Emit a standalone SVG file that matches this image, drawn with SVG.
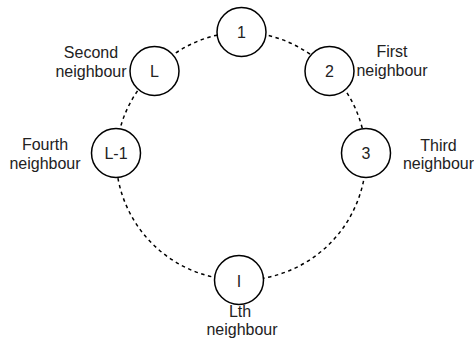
<svg xmlns="http://www.w3.org/2000/svg" width="474" height="345" viewBox="0 0 474 345">
  <style>
    .ring { fill: none; stroke: #000; stroke-width: 1.5; stroke-dasharray: 3.5 3.5; }
    .node circle { fill: #fff; stroke: #000; stroke-width: 1.5; }
    text { font-family: "Liberation Sans", Arial, sans-serif; font-size: 16px; fill: #222; text-anchor: middle; }
  </style>
  <rect width="474" height="345" fill="#fff"/>

  <!-- dashed ring linking neighbouring nodes -->
  <g id="connectors">
    <path class="ring" d="M241,32 A124,124 0 0,1 329.5,71"/>
    <path class="ring" d="M329.5,71 A124,124 0 0,1 366,153"/>
    <path class="ring" d="M366,153 A124,124 0 0,1 239,280"/>
    <path class="ring" d="M239,280 A124,124 0 0,1 116,153"/>
    <path class="ring" d="M116,153 A124,124 0 0,1 154.5,71"/>
    <path class="ring" d="M154.5,71 A124,124 0 0,1 241,32"/>
  </g>

  <g id="node-1" class="node">
    <circle cx="241.5" cy="32" r="24.5"/>
    <text x="241.5" y="37.5">1</text>
  </g>
  <g id="node-2" class="node">
    <circle cx="329.5" cy="71" r="24.5"/>
    <text x="329.5" y="76.5">2</text>
  </g>
  <g id="node-3" class="node">
    <circle cx="366" cy="153" r="24.5"/>
    <text x="366" y="158.5">3</text>
  </g>
  <g id="node-I" class="node">
    <circle cx="239" cy="280" r="24.5"/>
    <text x="239" y="287">I</text>
  </g>
  <g id="node-L-1" class="node">
    <circle cx="116" cy="153" r="24.5"/>
    <text x="116" y="158.5">L-1</text>
  </g>
  <g id="node-L" class="node">
    <circle cx="154.5" cy="71" r="24.5"/>
    <text x="154.5" y="76.5">L</text>
  </g>

  <!-- neighbour labels -->
  <g id="labels">
    <text x="392" y="57">First</text>
    <text x="392" y="75.5">neighbour</text>
    <text x="91" y="58">Second</text>
    <text x="91" y="76.5">neighbour</text>
    <text x="438.5" y="151">Third</text>
    <text x="438.5" y="169">neighbour</text>
    <text x="45" y="150">Fourth</text>
    <text x="45" y="168.5">neighbour</text>
    <text x="240" y="316.5">Lth</text>
    <text x="242" y="335">neighbour</text>
  </g>
</svg>
